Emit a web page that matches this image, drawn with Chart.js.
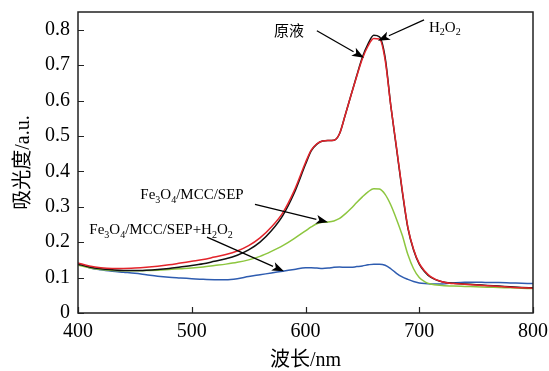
<!DOCTYPE html>
<html>
<head>
<meta charset="utf-8">
<script src="https://cdn.jsdelivr.net/npm/chart.js@4.4.1/dist/chart.umd.min.js"></script>
<style>
  html, body { margin: 0; padding: 0; background: #fff; }
  #wrap { width: 549px; height: 371px; }
</style>
</head>
<body>
<div id="wrap"><canvas id="uvChart" width="549" height="371"></canvas></div>
<script>
// wavelength (nm)
var wavelength = [400,410,420,430,440,450,460,470,480,490,500,510,520,530,540,550,560,570,580,590,
  600,605,610,615,620,625,630,635,640,645,650,655,660,665,670,675,680,685,690,695,700,705,710,
  720,730,740,750,760,770,780,790,800];

// absorbance, one array per sample
var yuanye = [0.138,0.130,0.125,0.122,0.120,0.120,0.121,0.123,0.126,0.130,0.134,0.139,0.146,0.153,0.163,0.178,0.200,0.232,0.275,0.338,
  0.420,0.458,0.477,0.486,0.487,0.488,0.507,0.560,0.615,0.670,0.722,0.760,0.784,0.780,0.722,0.585,0.465,0.345,0.240,0.178,0.138,0.116,0.101,
  0.088,0.084,0.082,0.080,0.078,0.076,0.074,0.072,0.071];
var h2o2 = [0.141,0.133,0.128,0.126,0.126,0.127,0.129,0.132,0.136,0.141,0.146,0.151,0.158,0.165,0.175,0.190,0.212,0.243,0.283,0.345,
  0.425,0.460,0.478,0.486,0.487,0.488,0.507,0.560,0.615,0.668,0.718,0.754,0.775,0.774,0.715,0.585,0.468,0.348,0.242,0.180,0.140,0.118,0.103,
  0.088,0.083,0.081,0.079,0.077,0.075,0.073,0.071,0.070];
var fmsep = [0.135,0.128,0.123,0.120,0.119,0.119,0.120,0.121,0.123,0.125,0.127,0.130,0.134,0.138,0.143,0.150,0.160,0.174,0.190,0.210,
  0.232,0.243,0.252,0.256,0.257,0.260,0.267,0.280,0.295,0.312,0.328,0.342,0.351,0.350,0.335,0.305,0.265,0.220,0.165,0.125,0.100,0.088,0.082,
  0.078,0.076,0.075,0.074,0.073,0.072,0.071,0.070,0.069];
var fmsepH2o2 = [0.140,0.128,0.122,0.118,0.115,0.112,0.108,0.104,0.101,0.099,0.097,0.095,0.094,0.094,0.097,0.103,0.108,0.113,0.118,0.123,
  0.128,0.128,0.127,0.126,0.127,0.129,0.130,0.129,0.129,0.131,0.133,0.136,0.138,0.138,0.135,0.125,0.112,0.102,0.095,0.089,0.085,0.083,0.082,
  0.082,0.085,0.087,0.087,0.086,0.086,0.085,0.084,0.083];

var xTicks = [400, 500, 600, 700, 800];
var yTicks = [0, 0.1, 0.2, 0.3, 0.4, 0.5, 0.6, 0.7, 0.8];

function pts(vals) {
  return wavelength.map(function (w, i) { return { x: w, y: vals[i] }; });
}

var serif = "'Liberation Serif', 'Noto Sans CJK SC', serif";

// labels with arrows: text pieces [string, isSubscript], text centre and arrow in data units
var notes = [
  { parts: [['原液', 0]], at: [585.5, 0.794], from: [610, 0.797], to: [651.4, 0.721] },
  { parts: [['H', 0], ['2', 1], ['O', 0], ['2', 1]], at: [722.5, 0.806], from: [704.2, 0.828], to: [663.7, 0.769] },
  { parts: [['Fe', 0], ['3', 1], ['O', 0], ['4', 1], ['/MCC/SEP', 0]], at: [500.2, 0.332], from: [555.6, 0.307], to: [619.8, 0.256] },
  { parts: [['Fe', 0], ['3', 1], ['O', 0], ['4', 1], ['/MCC/SEP+H', 0], ['2', 1], ['O', 0], ['2', 1]], at: [473, 0.234], from: [513.4, 0.214], to: [581.1, 0.118] }
];

var framePlugin = {
  id: 'frame',
  afterDraw: function (chart) {
    var c = chart.ctx, a = chart.chartArea, sx = chart.scales.x, sy = chart.scales.y;
    c.save();
    c.strokeStyle = '#222';
    c.lineWidth = 1.5;
    c.strokeRect(a.left, a.top, a.right - a.left, a.bottom - a.top);
    c.lineWidth = 1.2;
    c.beginPath();
    xTicks.forEach(function (v) {
      var px = Math.round(sx.getPixelForValue(v)) + 0.5;
      c.moveTo(px, a.bottom); c.lineTo(px, a.bottom - 6);
    });
    yTicks.forEach(function (v) {
      var py = Math.round(sy.getPixelForValue(v)) + 0.5;
      c.moveTo(a.left, py); c.lineTo(a.left + 6, py);
    });
    c.stroke();

    // annotations
    notes.forEach(function (n) {
      var fs = 15;
      var w = 0;
      n.parts.forEach(function (p) {
        c.font = (p[1] ? 10 : fs) + 'px ' + serif;
        w += c.measureText(p[0]).width;
      });
      var x = sx.getPixelForValue(n.at[0]) - w / 2, y = sy.getPixelForValue(n.at[1]);
      c.fillStyle = '#000';
      c.textBaseline = 'middle';
      c.textAlign = 'left';
      n.parts.forEach(function (p) {
        c.font = (p[1] ? 10 : fs) + 'px ' + serif;
        c.fillText(p[0], x, p[1] ? y + 5 : y);
        x += c.measureText(p[0]).width;
      });
      var x0 = sx.getPixelForValue(n.from[0]), y0 = sy.getPixelForValue(n.from[1]);
      var x1 = sx.getPixelForValue(n.to[0]), y1 = sy.getPixelForValue(n.to[1]);
      var ang = Math.atan2(y1 - y0, x1 - x0), L = 12, W = 4.5;
      var bx = x1 - L * Math.cos(ang), by = y1 - L * Math.sin(ang);
      c.strokeStyle = '#000';
      c.lineWidth = 1.3;
      c.beginPath(); c.moveTo(x0, y0); c.lineTo(bx, by); c.stroke();
      c.beginPath();
      c.moveTo(x1, y1);
      c.lineTo(bx - W * Math.sin(ang), by + W * Math.cos(ang));
      c.lineTo(bx + 3 * Math.cos(ang), by + 3 * Math.sin(ang));
      c.lineTo(bx + W * Math.sin(ang), by - W * Math.cos(ang));
      c.closePath();
      c.fill();
    });
    c.restore();
  }
};

var ctx = document.getElementById('uvChart').getContext('2d');
var uvChart = new Chart(ctx, {
  type: 'line',
  data: {
    datasets: [
      { label: 'H2O2', data: pts(h2o2), borderColor: '#e3242b', order: 0 },
      { label: '原液', data: pts(yuanye), borderColor: '#111111', order: 1 },
      { label: 'Fe3O4/MCC/SEP', data: pts(fmsep), borderColor: '#8dc63f', order: 2 },
      { label: 'Fe3O4/MCC/SEP+H2O2', data: pts(fmsepH2o2), borderColor: '#2e5cb0', order: 3 }
    ]
  },
  options: {
    responsive: false,
    animation: false,
    devicePixelRatio: 1,
    layout: { padding: { left: 0, right: 16, top: 12, bottom: 0 } },
    elements: {
      point: { radius: 0 },
      line: { borderWidth: 1.5, tension: 0.4, cubicInterpolationMode: 'monotone', fill: false }
    },
    plugins: {
      legend: { display: false },
      tooltip: { enabled: false }
    },
    scales: {
      x: {
        type: 'linear',
        min: 400,
        max: 800,
        afterBuildTicks: function (s) { s.ticks = xTicks.map(function (v) { return { value: v }; }); },
        afterFit: function (s) { s.height = 58; s.paddingLeft = 0; s.paddingRight = 0; },
        grid: { display: false, drawTicks: false },
        border: { display: false },
        ticks: { color: '#000', padding: 7, font: { family: serif, size: 20 } },
        title: { display: true, text: '波长/nm', color: '#000', padding: 0, font: { family: serif, size: 20, lineHeight: 1 } }
      },
      y: {
        min: 0,
        max: 0.85,
        afterBuildTicks: function (s) { s.ticks = yTicks.map(function (v) { return { value: v }; }); },
        afterFit: function (s) { s.width = 78; s.paddingTop = 0; s.paddingBottom = 0; },
        grid: { display: false, drawTicks: false },
        border: { display: false },
        ticks: { color: '#000', padding: 8, font: { family: serif, size: 20 },
          callback: function (v) { return String(v); } },
        title: { display: true, text: '吸光度/a.u.', color: '#000', padding: { top: 14, bottom: 0 }, font: { family: serif, size: 20, lineHeight: 1 } }
      }
    }
  },
  plugins: [framePlugin]
});
</script>
</body>
</html>
